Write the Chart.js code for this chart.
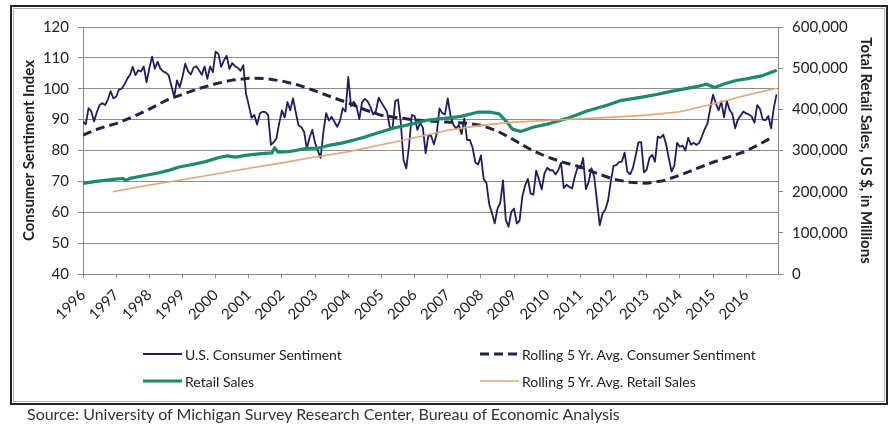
<!DOCTYPE html>
<html><head><meta charset="utf-8">
<script src="https://cdn.jsdelivr.net/npm/chart.js@4.4.1/dist/chart.umd.min.js"></script>
<style>
html,body{margin:0;padding:0;background:#fff;}
#wrap{position:relative;width:893px;height:429px;overflow:hidden;font-family:Lato,'Open Sans',sans-serif;}
#c{position:absolute;left:0;top:0;}
#frame{position:absolute;left:10px;top:5px;width:874px;height:396px;border:2px solid #222;pointer-events:none;}
#frame::after{content:'';position:absolute;left:1px;top:1px;right:1px;bottom:1px;border:1px solid #b0b0b0;}
#legend{position:absolute;left:0;top:0;width:893px;height:429px;pointer-events:none;}
.li{position:absolute;display:flex;align-items:center;font-size:14px;color:#222;white-space:nowrap;height:18px;}
.li svg{margin-right:3px;display:block;}
#source{position:absolute;left:27px;top:404px;font-size:16px;color:#333;white-space:nowrap;}
</style></head>
<body>
<div id="wrap">
<canvas id="c" width="893" height="429"></canvas>
<div id="legend"></div>
<div id="frame"></div>
<div id="source">Source: University of Michigan Survey Research Center, Bureau of Economic Analysis</div>
</div>
<script>
// ---------- DATA ----------
const yearLabels = ['1996','1997','1998','1999','2000','2001','2002','2003','2004','2005','2006','2007','2008','2009','2010','2011','2012','2013','2014','2015','2016'];

// U.S. Consumer Sentiment, monthly from Jan 1996
const sentimentStartYear = 1996;
const sentimentMonthly = [
 89.3,88.5,93.7,92.7,89.4,92.4,94.7,95.3,94.7,96.5,99.2,96.9,
 97.4,99.7,100.0,101.4,103.2,104.5,107.1,104.4,106.0,105.6,107.2,102.1,
 106.6,110.4,106.5,108.7,106.5,105.6,105.2,104.4,100.9,97.4,102.7,100.5,
 103.9,108.1,105.7,104.6,106.8,107.3,106.0,104.5,107.2,103.2,107.2,105.4,
 112.0,111.3,107.1,109.2,110.7,106.4,108.3,107.3,106.8,105.8,107.6,98.4,
 94.7,90.6,91.5,88.4,92.0,92.6,92.4,91.5,81.8,82.7,83.9,88.8,
 93.0,90.7,95.7,93.0,96.9,92.4,88.1,87.6,86.1,80.6,84.2,86.7,
 82.4,79.9,77.6,86.0,92.1,89.7,90.9,89.3,87.7,89.6,93.7,92.6,
 103.8,94.4,95.8,94.2,90.2,95.6,96.7,95.9,94.2,91.7,92.8,97.1,
 95.5,94.1,92.6,87.7,86.9,96.0,96.5,89.1,76.9,74.2,81.6,91.5,
 91.2,86.7,88.9,87.4,79.1,84.9,84.7,82.0,85.4,93.6,92.1,91.7,
 96.9,91.3,88.4,87.1,88.3,85.3,90.4,83.4,83.4,80.9,76.1,75.5,
 78.4,70.8,69.5,62.6,59.8,56.4,61.2,63.0,70.3,57.6,55.3,60.1,
 61.2,56.3,57.3,65.1,68.7,70.8,66.0,65.7,73.5,70.6,67.4,72.5,
 74.4,73.6,73.6,72.2,73.6,76.0,67.8,68.9,68.2,67.7,71.6,74.5,
 74.2,77.5,67.5,69.8,74.3,71.5,63.7,55.8,59.5,60.8,63.7,69.9,
 75.0,75.3,76.2,76.4,79.3,73.2,72.3,74.3,78.3,82.6,82.7,72.9,
 73.8,77.6,78.6,76.4,84.5,84.1,85.1,82.1,77.5,73.2,75.1,82.5,
 81.2,81.6,80.0,84.1,81.9,82.5,81.8,82.5,84.6,86.9,88.8,93.6,
 98.1,95.4,93.0,95.9,90.7,96.1,93.1,91.9,87.2,90.0,91.3,92.6,
 92.0,91.7,91.0,89.0,94.7,93.5,90.0,89.8,91.2,87.2,93.8,98.2
];

// Rolling 5 Yr. Avg. Consumer Sentiment
const rollSentYears  = [1996.0,1996.5,1997.0,1997.5,1998.0,1998.5,1999.0,1999.5,2000.0,2000.5,2001.0,2001.5,2002.0,2002.5,2003.0,2003.5,2004.0,2004.5,2005.0,2005.5,2006.0,2006.5,2007.0,2007.5,2008.0,2008.5,2009.0,2009.5,2010.0,2010.5,2011.0,2011.5,2012.0,2012.5,2013.0,2013.5,2014.0,2014.5,2015.0,2015.5,2016.0,2016.5,2016.8];
const rollSentValues = [85.0,87.2,88.7,90.9,93.4,96.2,98.2,100.1,101.6,102.8,103.4,103.3,102.5,101.2,99.3,97.3,95.4,93.2,91.4,90.6,89.9,89.5,89.2,88.9,88.2,86.3,83.4,80.3,77.9,76.1,74.7,72.6,70.7,69.7,69.4,70.2,72.0,74.1,76.2,78.0,79.8,82.6,84.4];

// Retail Sales, US $ millions
const retailYears  = [1996.0,1996.4,1996.9,1997.2,1997.3,1997.45,1997.9,1998.3,1998.55,1998.9,1999.3,1999.7,2000.1,2000.35,2000.6,2000.9,2001.3,2001.7,2001.78,2001.88,2002.2,2002.75,2003.1,2003.45,2003.8,2004.15,2004.5,2004.9,2005.35,2005.9,2006.4,2006.9,2007.4,2007.9,2008.3,2008.55,2008.75,2008.95,2009.2,2009.6,2010.1,2010.6,2011.2,2011.8,2012.2,2012.95,2013.3,2013.7,2014.1,2014.5,2014.8,2015.05,2015.35,2015.7,2016.0,2016.5,2016.92];
const retailValues = [220000,225000,230000,232000,228000,233000,240000,246000,251000,260000,266000,273000,283000,287000,284000,288000,292000,294000,307000,296000,297000,305000,306000,313000,318000,325000,333000,343000,354000,364000,374000,378000,383000,393000,393000,389000,372000,352000,346000,357000,366000,378000,396000,410000,421000,431000,436000,443000,449000,455000,461000,453000,462000,470000,474000,482000,495000];

// Rolling 5 Yr. Avg. Retail Sales
const rollRetailYears  = [1996.9,1998.0,1999.0,2000.0,2001.0,2002.0,2003.0,2004.0,2005.0,2006.0,2007.0,2008.0,2009.0,2010.0,2011.0,2012.0,2013.0,2014.0,2015.0,2016.0,2016.92];
const rollRetailValues = [200000,216000,229000,243000,257000,270000,284000,297000,314000,331000,349000,361000,369000,373000,377000,381000,386000,394000,413000,434000,451000];

// ---------- BUILD ----------
const pts = (xs, ys) => xs.map((x, i) => ({x: x, y: ys[i]}));
const sentimentPts = sentimentMonthly.map((v, i) => ({x: sentimentStartYear + i / 12, y: v}));

const legendOrder = ['U.S. Consumer Sentiment','Rolling 5 Yr. Avg. Consumer Sentiment','Retail Sales','Rolling 5 Yr. Avg. Retail Sales'];
const legendCols = [143, 480];
const legendRows = [354, 381];

const htmlLegend = {
  id: 'htmlLegend',
  afterUpdate(chart) {
    const box = document.getElementById('legend');
    box.innerHTML = '';
    legendOrder.forEach((label, i) => {
      const ds = chart.data.datasets.find(d => d.label === label);
      const item = document.createElement('div');
      item.className = 'li';
      item.style.left = legendCols[i % 2] + 'px';
      item.style.top = (legendRows[Math.floor(i / 2)] - 9) + 'px';
      const dash = ds.borderDash ? ' stroke-dasharray="' + ds.borderDash.join(',') + '"' : '';
      item.innerHTML = '<svg width="39" height="8"><line x1="0" y1="4" x2="39" y2="4" stroke="' + ds.borderColor + '" stroke-width="' + ds.borderWidth + '"' + dash + '/></svg><span>' + label + '</span>';
      box.appendChild(item);
    });
  }
};

const tickFont = {family: 'Lato', size: 15};
const titleFont = {family: 'Lato', size: 15, weight: 'bold'};

new Chart(document.getElementById('c'), {
  type: 'line',
  data: {
    datasets: [
      {label: 'Rolling 5 Yr. Avg. Retail Sales', data: pts(rollRetailYears, rollRetailValues), yAxisID: 'y2', borderColor: '#e5a576', borderWidth: 1.6},
      {label: 'Retail Sales', data: pts(retailYears, retailValues), yAxisID: 'y2', borderColor: '#1b8a6d', borderWidth: 3.2},
      {label: 'Rolling 5 Yr. Avg. Consumer Sentiment', data: pts(rollSentYears, rollSentValues), yAxisID: 'y', borderColor: '#1c2742', borderWidth: 3, borderDash: [9, 5]},
      {label: 'U.S. Consumer Sentiment', data: sentimentPts, yAxisID: 'y', borderColor: '#211d5c', borderWidth: 1.8}
    ]
  },
  options: {
    responsive: false,
    animation: false,
    devicePixelRatio: 1,
    events: [],
    elements: {point: {radius: 0}, line: {tension: 0, borderJoinStyle: 'round'}},
    layout: {padding: {left: 12, right: 5, top: 27, bottom: 94}},
    plugins: {legend: {display: false}, tooltip: {enabled: false}},
    scales: {
      x: {
        type: 'linear', min: 1996, max: 2016.96,
        ticks: {stepSize: 1, autoSkip: false, includeBounds: false, minRotation: 45, maxRotation: 45, padding: 8, color: '#222', font: tickFont,
          callback: v => yearLabels[Math.round(v - 1996)] || ''},
        grid: {drawOnChartArea: false, drawTicks: true, tickLength: 4, color: '#888'},
        border: {color: '#888', width: 1},
        afterFit(s) { s.height = 61; }
      },
      y: {
        position: 'left', min: 40, max: 120,
        ticks: {stepSize: 10, padding: 9, color: '#222', font: tickFont},
        grid: {color: '#8c8c8c', tickLength: 5},
        border: {color: '#888', width: 1},
        title: {display: true, text: 'Consumer Sentiment Index', color: '#222', font: titleFont, padding: {top: 8, bottom: 0}},
        afterFit(s) { s.width = 71; }
      },
      y2: {
        position: 'right', min: 0, max: 600000,
        ticks: {stepSize: 100000, padding: 9, color: '#222', font: tickFont, callback: v => v.toLocaleString('en-US')},
        grid: {drawOnChartArea: false, tickLength: 5, color: '#888'},
        border: {color: '#888', width: 1},
        title: {display: true, text: 'Total Retail Sales, US $, in Millions', color: '#222', font: titleFont, padding: {top: 13, bottom: 0}},
        afterFit(s) { s.width = 110; }
      }
    }
  },
  plugins: [htmlLegend]
});
</script>
</body></html>
